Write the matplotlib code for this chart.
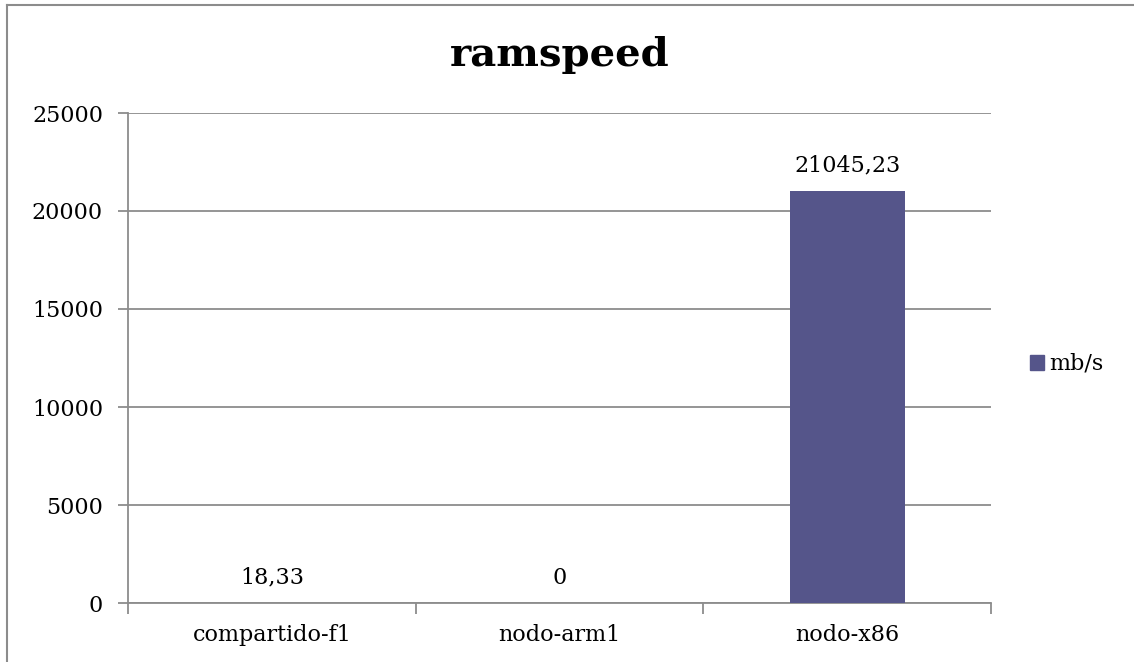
import matplotlib
matplotlib.use("Agg")
import matplotlib.pyplot as plt
from matplotlib.patches import Patch
from matplotlib.lines import Line2D

categories = ["compartido-f1", "nodo-arm1", "nodo-x86"]
values = [18.33, 0, 21045.23]
value_labels = ["18,33", "0", "21045,23"]
series_name = "mb/s"
yticks = [0, 5000, 10000, 15000, 20000, 25000]

plt.rcParams['font.family'] = ['DejaVu Serif']

W, H = 1134, 662
fig = plt.figure(figsize=(W/100, H/100), dpi=100)
ax = fig.add_axes([128/W, 1-603/H, (991-128)/W, (603-113)/H])

grid_c = "#8c8c8c"
bar_c = "#55558a"
fs = 16

x = list(range(len(categories)))
ax.bar(x, values, width=0.4, color=bar_c, zorder=3)
ax.set_xlim(-0.5, 2.5)
ax.set_ylim(0, 25000)
ax.set_yticks(yticks)
ax.set_yticklabels([str(v) for v in yticks], fontsize=fs)
ax.yaxis.grid(True, color=grid_c, linewidth=1.3, zorder=0)
ax.set_xticks([-0.5, 0.5, 1.5, 2.5], minor=False)
ax.set_xticklabels([])
ax.set_xticks(x, minor=True)
ax.set_xticklabels(categories, minor=True, fontsize=fs)
ax.tick_params(axis='x', which='minor', length=0, pad=15)
ax.tick_params(axis='x', which='major', length=8, color=grid_c, width=1.3)
ax.tick_params(axis='y', length=7, color=grid_c, width=1.3, pad=11)
for s in ['top', 'right']:
    ax.spines[s].set_visible(False)
for s in ['left', 'bottom']:
    ax.spines[s].set_color(grid_c)
    ax.spines[s].set_linewidth(1.3)

for xi, v, lab in zip(x, values, value_labels):
    ax.annotate(lab, (xi, v), xytext=(0, 10), textcoords='offset points',
                ha='center', va='bottom', fontsize=fs)

fig.text(560/W, 1-55/H, "ramspeed", ha='center', va='center',
         fontsize=29, fontweight='bold')

leg = fig.legend(handles=[Patch(color=bar_c, label=series_name)],
                 loc='center left', bbox_to_anchor=(1030/W, 1-364/H),
                 frameon=False, fontsize=16, handlelength=0.65, handleheight=0.65,
                 handletextpad=0.2, borderpad=0, borderaxespad=0)

# outer frame (top and left)
fig.add_artist(Line2D([7/W, 1], [1-5/H, 1-5/H], color=grid_c, linewidth=1.5,
                      transform=fig.transFigure))
fig.add_artist(Line2D([7/W, 7/W], [0, 1-5/H], color=grid_c, linewidth=1.5,
                      transform=fig.transFigure))

fig.savefig("out.png", dpi=100)
